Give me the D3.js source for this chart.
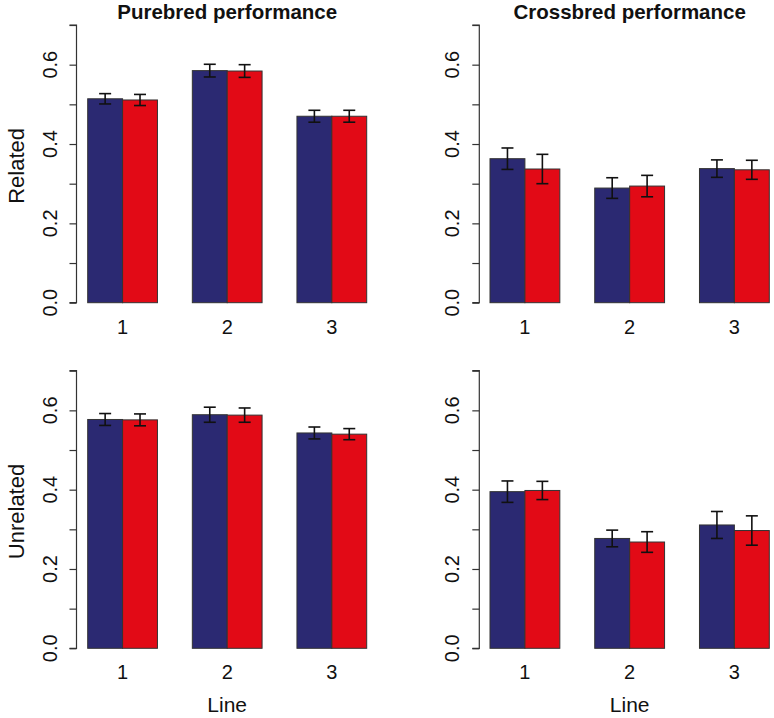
<!DOCTYPE html>
<html>
<head>
<meta charset="utf-8">
<script src="https://cdn.jsdelivr.net/npm/d3@7"></script>
<style>
  html, body { margin: 0; padding: 0; background: #fff; }
  text { font-family: "Liberation Sans", Arial, Helvetica, sans-serif; fill: #111; }
</style>
</head>
<body>
<svg id="chart" width="774" height="718"></svg>
<script>
// ---- data ----
const lines = ["1", "2", "3"];
const seriesNames = ["A", "B"];
const seriesColors = ["#2b2972", "#e20a16"];
const yTicks = [0, 0.1, 0.2, 0.3, 0.4, 0.5, 0.6, 0.7];
const yTickLabels = ["0.0", "", "0.2", "", "0.4", "", "0.6", ""];
const colTitles = ["Purebred performance", "Crossbred performance"];
const rowTitles = ["Related", "Unrelated"];
const xTitle = "Line";

// Purebred, related
const pureRelA = [0.514, 0.585, 0.470];
const pureRelB = [0.511, 0.584, 0.470];
const pureRelAse = [0.013, 0.016, 0.015];
const pureRelBse = [0.014, 0.016, 0.015];
// Crossbred, related
const crossRelA = [0.363, 0.289, 0.338];
const crossRelB = [0.337, 0.294, 0.335];
const crossRelAse = [0.027, 0.026, 0.022];
const crossRelBse = [0.037, 0.027, 0.024];
// Purebred, unrelated
const pureUnrA = [0.577, 0.589, 0.543];
const pureUnrB = [0.576, 0.588, 0.540];
const pureUnrAse = [0.015, 0.019, 0.015];
const pureUnrBse = [0.015, 0.018, 0.014];
// Crossbred, unrelated
const crossUnrA = [0.395, 0.277, 0.311];
const crossUnrB = [0.398, 0.268, 0.297];
const crossUnrAse = [0.027, 0.021, 0.034];
const crossUnrBse = [0.023, 0.026, 0.037];

const panels = [
  { row: 0, col: 0, vals: [pureRelA, pureRelB], se: [pureRelAse, pureRelBse] },
  { row: 0, col: 1, vals: [crossRelA, crossRelB], se: [crossRelAse, crossRelBse] },
  { row: 1, col: 0, vals: [pureUnrA, pureUnrB], se: [pureUnrAse, pureUnrBse] },
  { row: 1, col: 1, vals: [crossUnrA, crossUnrB], se: [crossUnrAse, crossUnrBse] }
];

// ---- layout ----
const svg = d3.select("#chart");
const axisX = [76.5, 479.3];
const barRange = [[87.7, 366.7], [490, 769.3]];
const yRange = [[302.7, 25], [648.3, 370.7]];

panels.forEach(p => {
  const g = svg.append("g");
  const x0 = d3.scaleBand().domain(lines).range(barRange[p.col]).paddingInner(1/3).paddingOuter(0);
  const x1 = d3.scaleBand().domain(seriesNames).range([0, x0.bandwidth()]).padding(0);
  const y = d3.scaleLinear().domain([0, 0.7]).range(yRange[p.row]);

  // bars
  seriesNames.forEach((s, si) => {
    g.selectAll(null).data(lines).enter().append("rect")
      .attr("x", d => x0(d) + x1(s))
      .attr("y", (d, i) => y(p.vals[si][i]))
      .attr("width", x1.bandwidth())
      .attr("height", (d, i) => y(0) - y(p.vals[si][i]))
      .attr("fill", seriesColors[si])
      .attr("stroke", "#333")
      .attr("stroke-width", 1);
  });

  // error bars
  seriesNames.forEach((s, si) => {
    const eg = g.selectAll(null).data(lines).enter().append("g")
      .attr("stroke", "#111").attr("stroke-width", 1.6).attr("fill", "none");
    const cx = d => x0(d) + x1(s) + x1.bandwidth() / 2;
    eg.append("line")
      .attr("x1", cx).attr("x2", cx)
      .attr("y1", (d, i) => y(p.vals[si][i] + p.se[si][i]))
      .attr("y2", (d, i) => y(p.vals[si][i] - p.se[si][i]));
    [1, -1].forEach(sg => {
      eg.append("line")
        .attr("x1", d => cx(d) - 6).attr("x2", d => cx(d) + 6)
        .attr("y1", (d, i) => y(p.vals[si][i] + sg * p.se[si][i]))
        .attr("y2", (d, i) => y(p.vals[si][i] + sg * p.se[si][i]));
    });
  });

  // y axis
  const ax = axisX[p.col];
  const yAxis = d3.axisLeft(y).tickValues(yTicks).tickSize(7).tickFormat("");
  const ag = g.append("g").attr("transform", `translate(${ax},0)`).call(yAxis);
  ag.select(".domain").attr("stroke", "#333").attr("stroke-width", 1.2)
    .attr("d", `M-7,${y(0.7)}H0V${y(0)}H-7`);
  ag.selectAll(".tick line").attr("stroke", "#333").attr("stroke-width", 1.2);
  yTicks.forEach((t, i) => {
    if (!yTickLabels[i]) return;
    g.append("text")
      .attr("transform", `translate(${ax - 20},${y(t)}) rotate(-90)`)
      .attr("text-anchor", "middle")
      .style("font-size", "20px")
      .text(yTickLabels[i]);
  });

  // x tick labels
  lines.forEach(l => {
    g.append("text")
      .attr("x", x0(l) + x0.bandwidth() / 2)
      .attr("y", y(0) + 31)
      .attr("text-anchor", "middle")
      .style("font-size", "20px")
      .text(l);
  });

  const cxMid = (barRange[p.col][0] + barRange[p.col][1]) / 2;
  if (p.row === 0) {
    g.append("text")
      .attr("x", cxMid).attr("y", 19)
      .attr("text-anchor", "middle")
      .style("font-size", "20.5px").style("font-weight", "bold")
      .text(colTitles[p.col]);
  }
  if (p.row === 1) {
    g.append("text")
      .attr("x", cxMid).attr("y", 712)
      .attr("text-anchor", "middle")
      .style("font-size", "21px")
      .text(xTitle);
  }
  if (p.col === 0) {
    g.append("text")
      .attr("transform", `translate(24,${(yRange[p.row][0] + yRange[p.row][1]) / 2 + 2}) rotate(-90)`)
      .attr("text-anchor", "middle")
      .style("font-size", "22px")
      .text(rowTitles[p.row]);
  }
});
</script>
</body>
</html>
